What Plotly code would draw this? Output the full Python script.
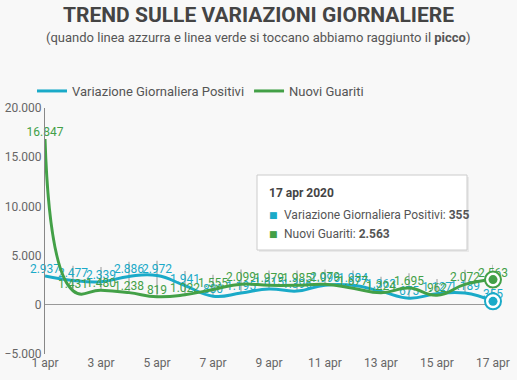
import plotly.graph_objects as go

dates = ["2020-04-%02d" % d for d in range(1, 18)]
positivi = [2937, 2477, 2339, 2886, 2972, 1941, 880, 1195, 1615, 1396, 1996, 1984, 1363, 675, 1127, 1189, 355]
guariti = [16847, 1431, 1480, 1238, 819, 1022, 1555, 2099, 1979, 1985, 2079, 1677, 1224, 1695, 962, 2072, 2563]
tick_vals = dates[::2]
tick_text = ["1 apr", "3 apr", "5 apr", "7 apr", "9 apr", "11 apr", "13 apr", "15 apr", "17 apr"]
y_ticks = [-5000, 0, 5000, 10000, 15000, 20000]

CYAN = "#1aaac8"
GREEN = "#43a047"
FONT = "Roboto"
BG = "#f8f8f8"

def fmt(v):
    return f"{v:,}".replace(",", ".")

W, H = 517, 380
ML, MR, MT, MB = 45, 24, 108, 26
plot_h = H - MT - MB
plot_w = W - ML - MR
def py(pix):
    return (H - MB - pix) / plot_h
def px(pix):
    return (pix - ML) / plot_w

fig = go.Figure()

# connector lines from points up to the labels
cx, cy = [], []
for d, p, g in zip(dates[1:], positivi[1:], guariti[1:]):
    cx += [d, d, None]
    cy += [min(p, g), max(p, g) + 1500, None]
fig.add_trace(go.Scatter(x=cx, y=cy, mode="lines", showlegend=False, hoverinfo="skip",
                         line=dict(color="#a8a8a8", width=1.2)))

fig.add_trace(go.Scatter(
    x=dates, y=positivi, name="Variazione Giornaliera Positivi",
    mode="lines+text", line=dict(color=CYAN, width=3, shape="spline", smoothing=1.3),
    text=[fmt(v) for v in positivi], textposition="top center",
    textfont=dict(color=CYAN, size=12, family=FONT), cliponaxis=False))
fig.add_trace(go.Scatter(
    x=dates, y=guariti, name="Nuovi Guariti",
    mode="lines+text", line=dict(color=GREEN, width=3, shape="spline", smoothing=1.3),
    text=[fmt(v) for v in guariti], textposition="top center",
    textfont=dict(color=GREEN, size=12, family=FONT), cliponaxis=False))

for series, col in ((positivi, CYAN), (guariti, GREEN)):
    fig.add_trace(go.Scatter(x=[dates[-1]], y=[series[-1]], mode="markers", showlegend=False,
                             marker=dict(size=16, color="white", line=dict(color=col, width=2)),
                             cliponaxis=False, hoverinfo="skip"))
    fig.add_trace(go.Scatter(x=[dates[-1]], y=[series[-1]], mode="markers", showlegend=False,
                             marker=dict(size=9, color=col), cliponaxis=False, hoverinfo="skip"))

shapes = [dict(type="rect", xref="paper", yref="paper", x0=px(259), x1=px(469), y0=py(252), y1=py(177),
               fillcolor="rgba(0,0,0,0.06)", line=dict(width=0), layer="above"),
          dict(type="rect", xref="paper", yref="paper", x0=px(257), x1=px(467), y0=py(250), y1=py(175),
               fillcolor="white", line=dict(color="#cccccc", width=1), layer="above")]

fig.update_layout(
    width=W, height=H,
    margin=dict(l=ML, r=MR, t=MT, b=MB, autoexpand=False),
    paper_bgcolor=BG, plot_bgcolor=BG,
    font=dict(family=FONT, color="#666666", size=12),
    separators=",.",
    showlegend=True,
    legend=dict(orientation="h", x=px(32), xanchor="left", y=py(91), yanchor="middle",
                font=dict(size=13, color="#555555"), bgcolor="rgba(0,0,0,0)"),
    shapes=shapes,
    xaxis=dict(range=[dates[0], dates[-1]], tickvals=tick_vals, ticktext=tick_text,
               showgrid=False, showline=False, zeroline=False, ticks="", automargin=False,
               tickfont=dict(size=12, color="#666666")),
    yaxis=dict(range=[-5000, 20000], tickvals=y_ticks, showgrid=False,
               showline=True, linecolor="#888888", linewidth=1,
               zeroline=True, zerolinecolor="#999999", zerolinewidth=1, automargin=False,
               tickformat=",d", ticks="", tickfont=dict(size=12, color="#666666")),
)

fig.add_annotation(text="<b>TREND SULLE VARIAZIONI GIORNALIERE</b>", xref="paper", yref="paper",
                   x=px(258), y=py(15), xanchor="center", yanchor="middle", showarrow=False,
                   font=dict(size=21, color="#444444", family=FONT))
fig.add_annotation(text="(quando linea azzurra e linea verde si toccano abbiamo raggiunto il <b>picco</b>)",
                   xref="paper", yref="paper", x=px(258), y=py(38), xanchor="center", yanchor="middle",
                   showarrow=False, font=dict(size=13, color="#555555", family=FONT))

fig.add_annotation(text="<b>17 apr 2020</b>", xref="paper", yref="paper", x=px(267), y=py(193),
                   xanchor="left", yanchor="middle", showarrow=False,
                   font=dict(size=12, color="#444444", family=FONT))
rows = [("Variazione Giornaliera Positivi: ", fmt(positivi[-1]), CYAN, 215),
        ("Nuovi Guariti: ", fmt(guariti[-1]), GREEN, 234)]
for label, val, col, ypix in rows:
    fig.add_annotation(text="■", xref="paper", yref="paper", x=px(267), y=py(ypix),
                       xanchor="left", yanchor="middle", showarrow=False,
                       font=dict(size=9, color=col, family="DejaVu Sans"))
    fig.add_annotation(text=f"{label}<b>{val}</b>", xref="paper", yref="paper", x=px(282), y=py(ypix),
                       xanchor="left", yanchor="middle", showarrow=False,
                       font=dict(size=12, color="#555555", family=FONT))

fig.write_html("out.html", config={"displayModeBar": False},
               post_script="document.body.style.margin='0';document.body.style.background='%s';" % BG)
